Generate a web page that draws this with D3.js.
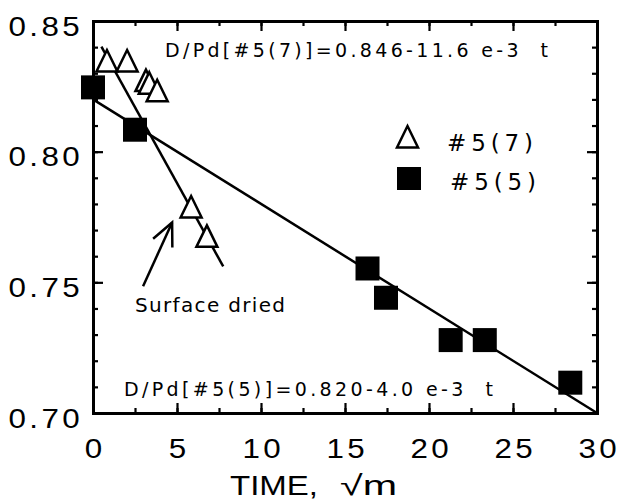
<!DOCTYPE html>
<html>
<head>
<meta charset="utf-8">
<script src="https://cdn.jsdelivr.net/npm/d3@7"></script>
<style>
  html, body { margin: 0; padding: 0; background: #fff; }
  svg { display: block; }
  text { font-family: "Liberation Sans", Arial, sans-serif; fill: #000; }
  .lbl { font-family: "DejaVu Sans", "Liberation Sans", sans-serif; }
</style>
</head>
<body>
<svg id="chart" width="621" height="502"></svg>
<script>
// Deuterium loading ratio D/Pd versus square root of time
// Sample #5(7): open triangles
const time57 = [0.83, 2.03, 3.15, 3.35, 3.82, 5.84, 6.78];
const ratio57 = [0.8347, 0.8347, 0.8272, 0.8262, 0.8233, 0.7788, 0.7676];
// Sample #5(5): filled squares
const time55 = [0, 2.5, 16.34, 17.44, 21.29, 23.32, 28.41];
const ratio55 = [0.8246, 0.8084, 0.7553, 0.7441, 0.7279, 0.7279, 0.7116];

// Linear fits: D/Pd = a - b * t
const fit57 = { a: 0.846, b: 11.6e-3, t0: 0.5, t1: 7.75 };
const fit55 = { a: 0.820, b: 4.0e-3, t0: 0, t1: 30 };

const xTicks = [0, 5, 10, 15, 20, 25, 30];
const xMinor = d3.range(0, 30.01, 2.5);
const yTicks = [0.70, 0.75, 0.80, 0.85];
const yMinor = d3.range(70, 86, 1).map(v => v / 100);

const seriesNames = ["#5(7)", "#5(5)"];
const fitLabels = ["D/Pd[#5(7)]=0.846-11.6 e-3  t", "D/Pd[#5(5)]=0.820-4.0 e-3  t"];
const noteText = "Surface dried";
// Arrow pointing at the break in the #5(7) curve (data coordinates)
const arrowFrom = [2.98, 0.7485];
const arrowTo = [4.71, 0.7729];

const svg = d3.select("#chart");
const L = 93, R = 597, T = 21, B = 413;
const x = d3.scaleLinear().domain([0, 30]).range([L, R]);
const y = d3.scaleLinear().domain([0.70, 0.85]).range([B, T]);

const SX = 1.12;         // horizontal stretch of the tick numerals
const AXW = 3;           // frame line width

function styleAxis(g) {
  g.select(".domain").attr("stroke-width", AXW).attr("stroke-linecap", "square");
  g.selectAll(".tick line").attr("stroke-width", 2.2);
}
function minor(g) {
  g.select(".domain").remove();
  g.selectAll(".tick line").attr("stroke-width", 2.2);
}

// minor ticks (all four sides, pointing inward)
svg.append("g").attr("transform", `translate(0,${B})`)
  .call(d3.axisBottom(x).tickValues(xMinor).tickSize(-5).tickFormat("")).call(minor);
svg.append("g").attr("transform", `translate(0,${T})`)
  .call(d3.axisTop(x).tickValues(xMinor).tickSize(-5).tickFormat("")).call(minor);
svg.append("g").attr("transform", `translate(${L},0)`)
  .call(d3.axisLeft(y).tickValues(yMinor).tickSize(-5).tickFormat("")).call(minor);
svg.append("g").attr("transform", `translate(${R},0)`)
  .call(d3.axisRight(y).tickValues(yMinor).tickSize(-5).tickFormat("")).call(minor);

// major ticks and frame
svg.append("g").attr("transform", `translate(0,${B})`)
  .call(d3.axisBottom(x).tickValues(xTicks).tickSize(-10).tickSizeOuter(0).tickPadding(25).tickFormat(d3.format("d")))
  .call(styleAxis)
  .call(g => g.selectAll(".tick text")
    .attr("font-size", 28).attr("font-family", "Liberation Sans, Arial, sans-serif")
    .attr("letter-spacing", 3).attr("dx", 1.5)
    .attr("transform", `scale(${SX},1)`));
svg.append("g").attr("transform", `translate(0,${T})`)
  .call(d3.axisTop(x).tickValues(xTicks).tickSize(-10).tickSizeOuter(0).tickFormat(""))
  .call(styleAxis);
svg.append("g").attr("transform", `translate(${L},0)`)
  .call(d3.axisLeft(y).tickValues(yTicks).tickSize(-10).tickSizeOuter(0).tickFormat(d3.format(".2f")))
  .call(styleAxis)
  .call(g => g.selectAll(".tick text")
    .attr("font-size", 28).attr("font-family", "Liberation Sans, Arial, sans-serif")
    .attr("letter-spacing", 3)
    .attr("x", -10 / SX).attr("dy", 14)
    .attr("transform", `scale(${SX},1)`));
svg.append("g").attr("transform", `translate(${R},0)`)
  .call(d3.axisRight(y).tickValues(yTicks).tickSize(-10).tickSizeOuter(0).tickFormat(""))
  .call(styleAxis);

// fitted lines
const line = d3.line().x(d => x(d[0])).y(d => y(d[1]));
[fit57, fit55].forEach(f => {
  const pts = [f.t0, f.t1].map(t => [t, f.a - f.b * t]);
  svg.append("path").attr("d", line(pts))
    .attr("fill", "none").attr("stroke", "#000").attr("stroke-width", 2.5);
});

// markers
const triPath = "M0,-11L10.5,10.5L-10.5,10.5Z";
const SQ = 24;
svg.append("g").selectAll("path")
  .data(d3.zip(time57, ratio57)).join("path")
  .attr("transform", d => `translate(${x(d[0])},${y(d[1])})`)
  .attr("d", triPath)
  .attr("fill", "#fff").attr("stroke", "#000").attr("stroke-width", 2.5)
  .attr("stroke-linejoin", "miter");
svg.append("g").selectAll("rect")
  .data(d3.zip(time55, ratio55)).join("rect")
  .attr("x", d => x(d[0]) - SQ / 2).attr("y", d => y(d[1]) - SQ / 2)
  .attr("width", SQ).attr("height", SQ).attr("fill", "#000");

// fit equations
svg.append("text").attr("class", "lbl").attr("x", 165).attr("y", 57)
  .attr("font-size", 19).attr("textLength", 383).attr("lengthAdjust", "spacing")
  .style("white-space", "pre")
  .text(fitLabels[0]);
svg.append("text").attr("class", "lbl").attr("x", 124).attr("y", 396)
  .attr("font-size", 19).attr("textLength", 369).attr("lengthAdjust", "spacing")
  .style("white-space", "pre")
  .text(fitLabels[1]);

// legend
const leg = svg.append("g");
leg.append("path").attr("transform", "translate(407.5,137)").attr("d", triPath)
  .attr("fill", "#fff").attr("stroke", "#000").attr("stroke-width", 2.5);
leg.append("rect").attr("x", 397).attr("y", 167).attr("width", 24).attr("height", 23).attr("fill", "#000");
leg.append("text").attr("class", "lbl").attr("x", 447).attr("y", 151).attr("font-size", 23)
  .attr("textLength", 86).attr("lengthAdjust", "spacing").text(seriesNames[0]);
leg.append("text").attr("class", "lbl").attr("x", 450).attr("y", 190).attr("font-size", 23)
  .attr("textLength", 86).attr("lengthAdjust", "spacing").text(seriesNames[1]);

// annotation arrow and note
const ax0 = x(arrowFrom[0]), ay0 = y(arrowFrom[1]);
const ax1 = x(arrowTo[0]), ay1 = y(arrowTo[1]);
const ang = Math.atan2(ay0 - ay1, ax0 - ax1);
const headLen = 25, headAng = 25 * Math.PI / 180;
const arrow = svg.append("g").attr("stroke", "#000").attr("stroke-width", 2.5).attr("fill", "none");
arrow.append("path").attr("d", `M${ax0},${ay0}L${ax1},${ay1}`);
arrow.append("path").attr("d",
  `M${ax1 + headLen * Math.cos(ang - headAng)},${ay1 + headLen * Math.sin(ang - headAng)}` +
  `L${ax1},${ay1}` +
  `L${ax1 + headLen * Math.cos(ang + headAng)},${ay1 + headLen * Math.sin(ang + headAng)}`);
svg.append("text").attr("class", "lbl").attr("x", 135).attr("y", 312).attr("font-size", 20)
  .attr("textLength", 150).attr("lengthAdjust", "spacing").text(noteText);

// x-axis title
svg.append("text").attr("x", 230).attr("y", 495).attr("font-size", 28)
  .attr("textLength", 88).attr("lengthAdjust", "spacingAndGlyphs").text("TIME,");
svg.append("text").attr("x", 340).attr("y", 495).attr("font-size", 28)
  .attr("textLength", 57).attr("lengthAdjust", "spacingAndGlyphs").text("\u221Am");
</script>
</body>
</html>
